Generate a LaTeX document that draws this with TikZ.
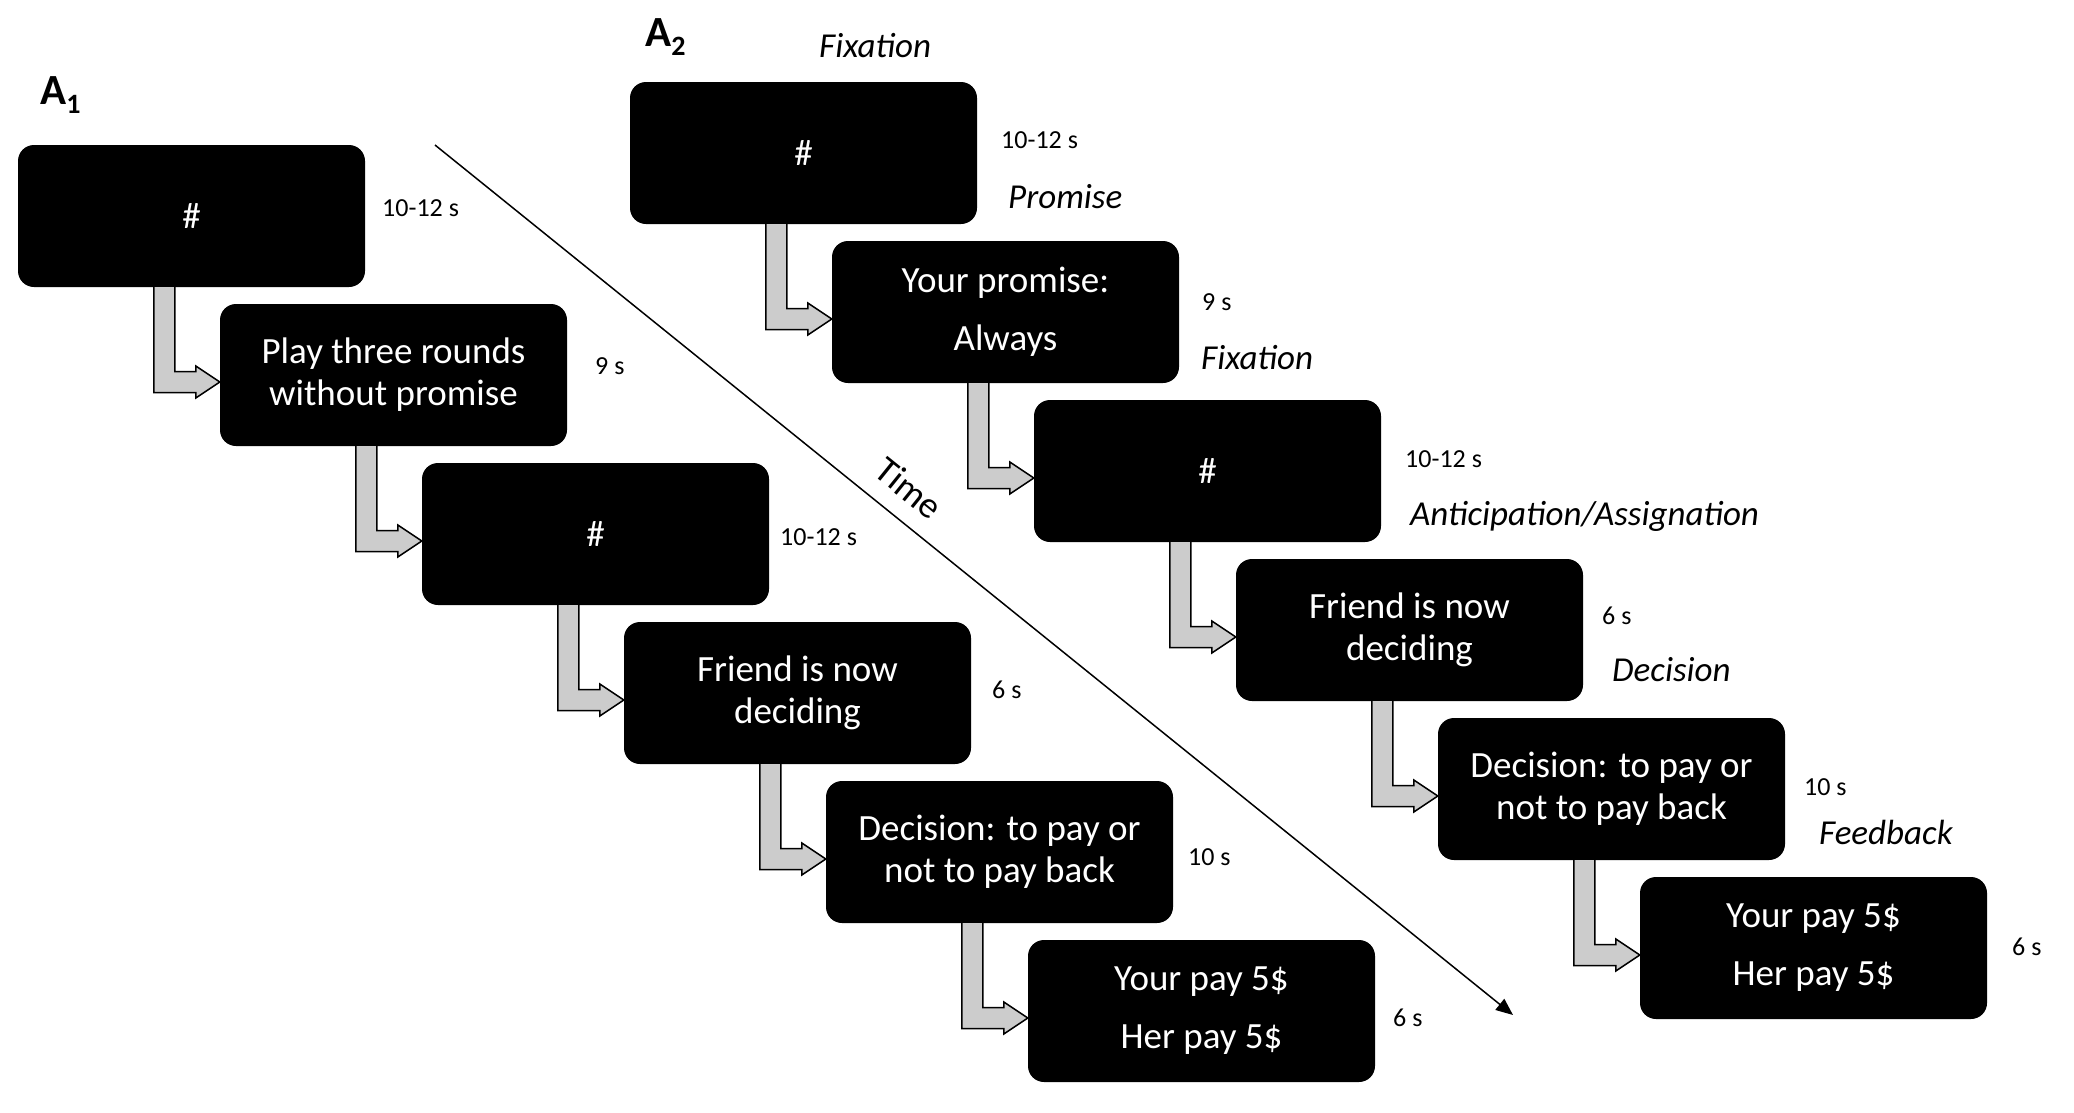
\documentclass[tikz,border=0pt]{standalone}
\usepackage{fontspec}
\setmainfont{Carlito}
\usetikzlibrary{calc,arrows.meta}
\newcommand\blkarrow[2]{%
  \filldraw[blockarrow] let \p1=($(#1.south west)+(146.5,0)$), \p2=($(#2.west)+(0,7)$) in
   (\x1-10.5pt,\y1) -- (\x1-10.5pt,\y2-10.5pt) -- (\x2-24pt,\y2-10.5pt) -- (\x2-24pt,\y2-16pt)
   -- (\x2,\y2) -- (\x2-24pt,\y2+16pt) -- (\x2-24pt,\y2+10.5pt) -- (\x1+10.5pt,\y2+10.5pt) -- (\x1+10.5pt,\y1);}
\begin{document}
\begin{tikzpicture}[x=1pt,y=-1pt,
  screen/.style={fill=black, rounded corners=16pt, minimum width=347pt, minimum height=142pt,
    text=white, align=center, inner sep=0pt, font=\fontsize{37}{42}\selectfont},
  dur/.style={anchor=west, font=\fontsize{26}{30}\selectfont, inner sep=0pt, text depth=0pt},
  phase/.style={anchor=west, font=\fontsize{35}{40}\selectfont\itshape, inner sep=0pt, text depth=0pt},
  panel/.style={anchor=base west, inner sep=0pt, font=\fontsize{43}{46}\selectfont\bfseries},
  blockarrow/.style={fill=gray!40, draw=black, line width=1.5pt, line join=miter},
]
\useasboundingbox (0,0) rectangle (2074,1112);

% Panel labels
\node[panel] (pA1) at (40,104) {A\raisebox{-0.22em}{\fontsize{28}{30}\selectfont 1}};
\node[panel] (pA2) at (645,46) {A\raisebox{-0.22em}{\fontsize{28}{30}\selectfont 2}};

% A1 column
\node[screen] (a1) at (191.5,216) {\#};
\node[screen] (a2) at (393.5,375) {Play three rounds\\without promise};
\node[screen] (a3) at (595.5,534) {\#};
\node[screen] (a4) at (797.5,693) {Friend is now\\deciding};
\node[screen] (a5) at (999.5,852) {Decision: to pay or\\not to pay back};
\node[screen, font=\fontsize{37}{58}\selectfont] (a6) at (1201.5,1011) {Your pay 5\$\\Her pay 5\$};

\node[dur] (da1) at (382,208) {10-12 s};
\node[dur] (da2) at (595,366) {9 s};
\node[dur] (da3) at (780,537) {10-12 s};
\node[dur] (da4) at (992,690) {6 s};
\node[dur] (da5) at (1188,857) {10 s};
\node[dur] (da6) at (1393,1018) {6 s};

% A2 column
\node[screen] (b1) at (803.5,153) {\#};
\node[screen, font=\fontsize{37}{58}\selectfont] (b2) at (1005.5,312) {Your promise:\\Always};
\node[screen] (b3) at (1207.5,471) {\#};
\node[screen] (b4) at (1409.5,630) {Friend is now\\deciding};
\node[screen] (b5) at (1611.5,789) {Decision: to pay or\\not to pay back};
\node[screen, font=\fontsize{37}{58}\selectfont] (b6) at (1813.5,948) {Your pay 5\$\\Her pay 5\$};

\node[dur] (db1) at (1001,140) {10-12 s};
\node[dur] (db2) at (1202,302) {9 s};
\node[dur] (db3) at (1405,459) {10-12 s};
\node[dur] (db4) at (1602,616) {6 s};
\node[dur] (db5) at (1804,787) {10 s};
\node[dur] (db6) at (2012,947) {6 s};

\node[phase] (ph1) at (819,45) {Fixation};
\node[phase] (ph2) at (1008,196) {Promise};
\node[phase] (ph3) at (1201,357) {Fixation};
\node[phase] (ph4) at (1410,513) {Anticipation/Assignation};
\node[phase] (ph5) at (1612,669) {Decision};
\node[phase] (ph6) at (1819,832) {Feedback};

% Block arrows
\blkarrow{a1}{a2}
\blkarrow{a2}{a3}
\blkarrow{a3}{a4}
\blkarrow{a4}{a5}
\blkarrow{a5}{a6}
\blkarrow{b1}{b2}
\blkarrow{b2}{b3}
\blkarrow{b3}{b4}
\blkarrow{b4}{b5}
\blkarrow{b5}{b6}

% Time axis
\coordinate (t0) at (435,145);
\coordinate (t1) at (1513,1015);
\draw[line width=1.5pt, -{Triangle[length=17pt,width=14pt]}] (t0) -- (t1);
\node[rotate=-38.9, font=\fontsize{37}{40}\selectfont, inner sep=0pt] (time) at (909,488) {Time};
\end{tikzpicture}
\end{document}
